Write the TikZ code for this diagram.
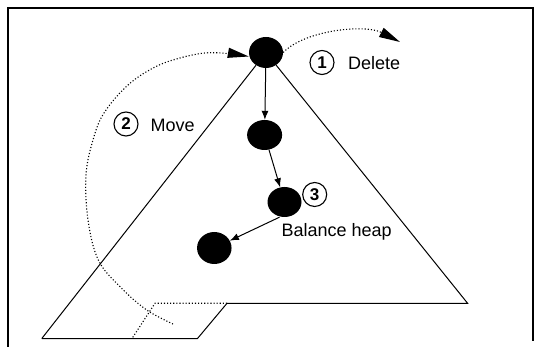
\documentclass[tikz,border=0pt]{standalone}
\usepackage{fontspec}
\setmainfont{Liberation Sans}
\usetikzlibrary{arrows.meta,shapes.geometric}

\begin{document}
\begin{tikzpicture}[x=1pt,y=-1pt,
  heapnode/.style={ellipse,fill=black,minimum width=34pt,minimum height=31pt,inner sep=0pt},
  treearrow/.style={line width=1pt,-{Latex[length=9pt,width=7pt]}},
  outline/.style={line width=1pt},
  dotline/.style={line width=1.1pt,dash pattern=on 1.1pt off 2pt},
  bigarrow/.style={dotline,-{Triangle[length=21pt,width=10pt]}},
  stepnum/.style={circle,draw,line width=1.1pt,minimum size=24pt,inner sep=0pt,
    font=\fontsize{17}{17}\selectfont\bfseries},
  caption/.style={font=\fontsize{18}{20}\selectfont,inner sep=0pt,anchor=base west}]

\useasboundingbox (0,0) rectangle (546,347);

% frame
\draw[line width=2pt] (8,347) -- (8,8) -- (533,8) -- (533,341);

% heap nodes
\node[heapnode] (n1) at (266,52.5) {};
\node[heapnode,minimum width=35pt,minimum height=30pt] (n2) at (264.6,135) {};
\node[heapnode,minimum height=30pt] (n3) at (284.5,202) {};
\node[heapnode,minimum width=34.5pt,minimum height=32pt] (n4) at (214.3,248) {};

% heap outline (triangle with the cut-out base)
\coordinate (bl) at (41.8,338.5);
\coordinate (br) at (467.6,303.3);
\coordinate (notch) at (227,303.3);
\coordinate (notchlow) at (197.5,338.5);
\coordinate (oldtop) at (155,303.3);
\coordinate (oldlow) at (132,338.5);

\draw[outline] (n1) -- (bl);
\draw[outline] (n1) -- (br) -- (notch) -- (notchlow) -- (bl);
\draw[dotline] (notch) -- (oldtop) -- (oldlow);

% sift-down path
\draw[treearrow] (n1) -- (n2);
\draw[treearrow] (n2) -- (n3);
\draw[treearrow] ([xshift=-5pt]n3.south) -- (n4);

% step 1: delete the root
\coordinate (gone) at (400,42);
\draw[bigarrow] (n1.east) .. controls (305,30) and (365,24) .. (gone);

% step 2: move the last element to the root
\coordinate (last) at (173,324);
\draw[bigarrow] plot[smooth,tension=0.6] coordinates {(last) (146.7,310) (120,286.7)
  (98.3,260) (88,220) (86,175) (93,140) (104,113) (128,85) (155,67) (180,58)
  (205,53) (228,53.5) ([yshift=-4pt]n1.west)};

% labels
\node[stepnum] (s1) at (322,62.5) {1};
\node[caption] (t1) at (348,70) {Delete};
\node[stepnum] (s2) at (126,124) {2};
\node[caption] (t2) at (150.5,131.5) {Move};
\node[stepnum] (s3) at (314.7,194.5) {3};
\node[caption] (t3) at (281.5,236.7) {Balance heap};
\end{tikzpicture}
\end{document}
